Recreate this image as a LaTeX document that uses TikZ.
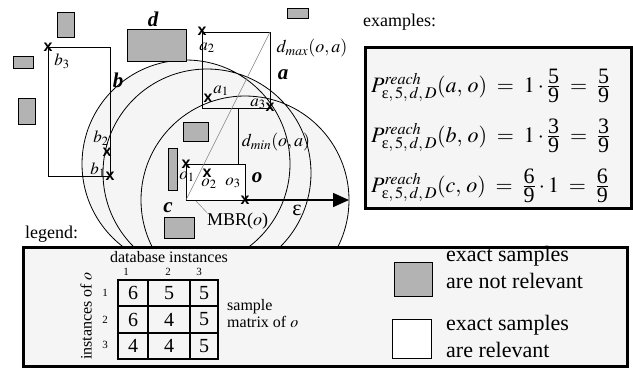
\documentclass[tikz,border=0pt]{standalone}
\usepackage{amsmath}
\usepackage{mathptmx}
\usepackage{fontspec}
\setmainfont{Liberation Serif}
\setsansfont{Liberation Sans}
\usetikzlibrary{arrows.meta,positioning,calc}
\definecolor{rangegray}{HTML}{F5F5F5}
\definecolor{objgray}{HTML}{B3B3B3}

\begin{document}
\begin{tikzpicture}[x=1pt,y=-1pt,>={Triangle[length=16pt,width=14pt]},
  obj/.style={draw,fill=objgray,line width=0.8pt},
  bound/.style={draw,line width=0.8pt},
  objlbl/.style={font=\fontsize{21}{21}\selectfont\rmfamily\bfseries\itshape,inner sep=0pt},
  cross/.style={font=\fontsize{16}{16}\selectfont\sffamily\bfseries,inner sep=0pt},
  inst/.style={font=\fontsize{17}{17}\selectfont\rmfamily,inner sep=0pt},
  txt/.style={font=\fontsize{18}{20}\selectfont\rmfamily,inner sep=0pt},
  small/.style={font=\fontsize{16}{17}\selectfont\rmfamily,inner sep=0pt},
  big/.style={font=\fontsize{22}{27}\selectfont\rmfamily,inner sep=0pt,align=left,anchor=west},
  frame/.style={draw,line width=3pt,fill=rangegray},
  cell/.style={draw,line width=2.2pt,minimum height=26.3pt,inner sep=0pt,font=\fontsize{20}{20}\selectfont\rmfamily},
  idx/.style={font=\fontsize{11}{11}\selectfont\rmfamily,inner sep=0pt},
  formula/.style={anchor=base west,inner sep=0pt,font=\fontsize{22}{22}\selectfont\rmfamily}]

\useasboundingbox (0,0) rectangle (633,368);

% instances of o and their eps-ranges
\coordinate (o1) at (186,164);
\coordinate (o2) at (207,173);
\coordinate (o3) at (245,200);
\fill[rangegray] (o1) circle (104pt) (o2) circle (104pt) (o3) circle (104pt);
\draw[line width=0.8pt] (o1) circle (104pt) (o2) circle (104pt) (o3) circle (104pt);

% objects a and b
\coordinate (asw) at (202,108);
\coordinate (ane) at (270,32);
\draw[bound] (asw) rectangle (ane);
\coordinate (bnw) at (48,47);
\coordinate (bse) at (110,176);
\draw[bound] (bnw) rectangle (bse);

% objects with irrelevant samples
\draw[obj] (57,12) rectangle (74,37);
\draw[obj] (13,56) rectangle (33,68);
\draw[obj] (18,98) rectangle (35,124);
\draw[obj] (127,29) rectangle (186,61);
\draw[obj] (287,8) rectangle (308,18);
\draw[obj] (183,122) rectangle (208,141);
\draw[obj] (168,148) rectangle (177,190);
\draw[obj] (164,217) rectangle (194,238);

% MBR of o
\draw[bound,fill=white] (o1) rectangle (o3);
\coordinate (mbrsw) at (o1 |- o3);
\draw[gray,line width=0.6pt] (mbrsw) -- (ane);
\coordinate (dmin) at (238,108);
\draw[line width=0.8pt] (dmin) -- (dmin |- o1);
\coordinate (epsend) at ($(o3)+(104,0)$);
\draw[line width=1.5pt,->] (o3) -- (epsend);

% sample points
\node[cross] (xb3) at (bnw) {x};
\node[cross] (xb2) at (107,152) {x};
\node[cross] (xb1) at (bse) {x};
\node[cross] (xa2) at (202,31) {x};
\node[cross] (xa1) at (208,98) {x};
\node[cross] (xa3) at (270,107) {x};
\node[cross] (xo1) at (o1) {x};
\node[cross] (xo2) at (o2) {x};
\node[cross] (xo3) at (o3) {x};
\node[inst] at (62,61) {$b_3$};
\node[inst] at (101,138) {$b_2$};
\node[inst] at (98,170) {$b_1$};
\node[inst] at (207,48) {$a_2$};
\node[inst] at (221,91) {$a_1$};
\node[inst] at (258,104) {$a_3$};
\node[inst] at (187,177) {$o_1$};
\node[inst] at (209,184) {$o_2$};
\node[inst] at (233,183) {$o_3$};

% labels
\node[objlbl] at (153,19) {d};
\node[objlbl] at (118,80) {b};
\node[objlbl] at (283,75) {a};
\node[objlbl] at (257,178) {o};
\node[objlbl] at (168,208) {c};
\node[txt] at (312,48) {$d_{\mathit{max}}(o,a)$};
\node[txt] at (276,142) {$d_{\mathit{min}}(o,a)$};
\node[txt,font=\fontsize{22}{22}\selectfont] at (297,210) {ε};
\node[txt,anchor=west] (mbrlbl) at (207,221) {MBR($o$)};
\draw[gray,line width=0.5pt] (196,201) -- (mbrlbl.north west);

% examples
\node[txt,anchor=base west] at (363,26) {examples:};
\draw[frame] (365,47) rectangle (631,208);
\node[formula] (pa) at (371,92) {$P^{\mathit{reach}}_{\text{ε},\,5,\,d,\,D}(a,\,o) \;=\; 1\cdot\frac{\mbox{5}}{\mbox{9}} \;=\; \frac{\mbox{5}}{\mbox{9}}$};
\node[formula] (pb) at (371,142) {$P^{\mathit{reach}}_{\text{ε},\,5,\,d,\,D}(b,\,o) \;=\; 1\cdot\frac{\mbox{3}}{\mbox{9}} \;=\; \frac{\mbox{3}}{\mbox{9}}$};
\node[formula] (pc) at (371,192) {$P^{\mathit{reach}}_{\text{ε},\,5,\,d,\,D}(c,\,o) \;=\; \frac{\mbox{6}}{\mbox{9}}\cdot 1 \;=\; \frac{\mbox{6}}{\mbox{9}}$};

% legend
\node[txt,anchor=base west] at (25,238) {legend:};
\draw[frame] (23,247) rectangle (627,366);
\node[small] at (169,257) {database instances};
\node[small,rotate=90] at (86,316) {instances of $o$};
\foreach \x [count=\c] in {126,168,199}
  \node[idx] (col\c) at (\x,272) {\c};
\foreach \y [count=\r] in {293,320,345}
  \node[idx] (row\r) at (105,\y) {\r};
\foreach \r/\y/\va/\vb/\vc in {1/293.2/6/5/5,2/319.5/6/4/5,3/345.8/4/4/5}{
  \node[cell,minimum width=30pt] (m\r1) at (133,\y) {\va};
  \node[cell,minimum width=42pt] (m\r2) at (169,\y) {\vb};
  \node[cell,minimum width=28pt] (m\r3) at (204,\y) {\vc};
}
\node[small,align=left,anchor=west] at (227,314) {sample\\matrix of $o$};
\draw[obj] (394,262) rectangle (432,296);
\draw[bound,fill=white] (392,319) rectangle (431,358);
\node[big] at (446,267) {exact samples\\are not relevant};
\node[big] at (446,336) {exact samples\\are relevant};
\end{tikzpicture}
\end{document}
